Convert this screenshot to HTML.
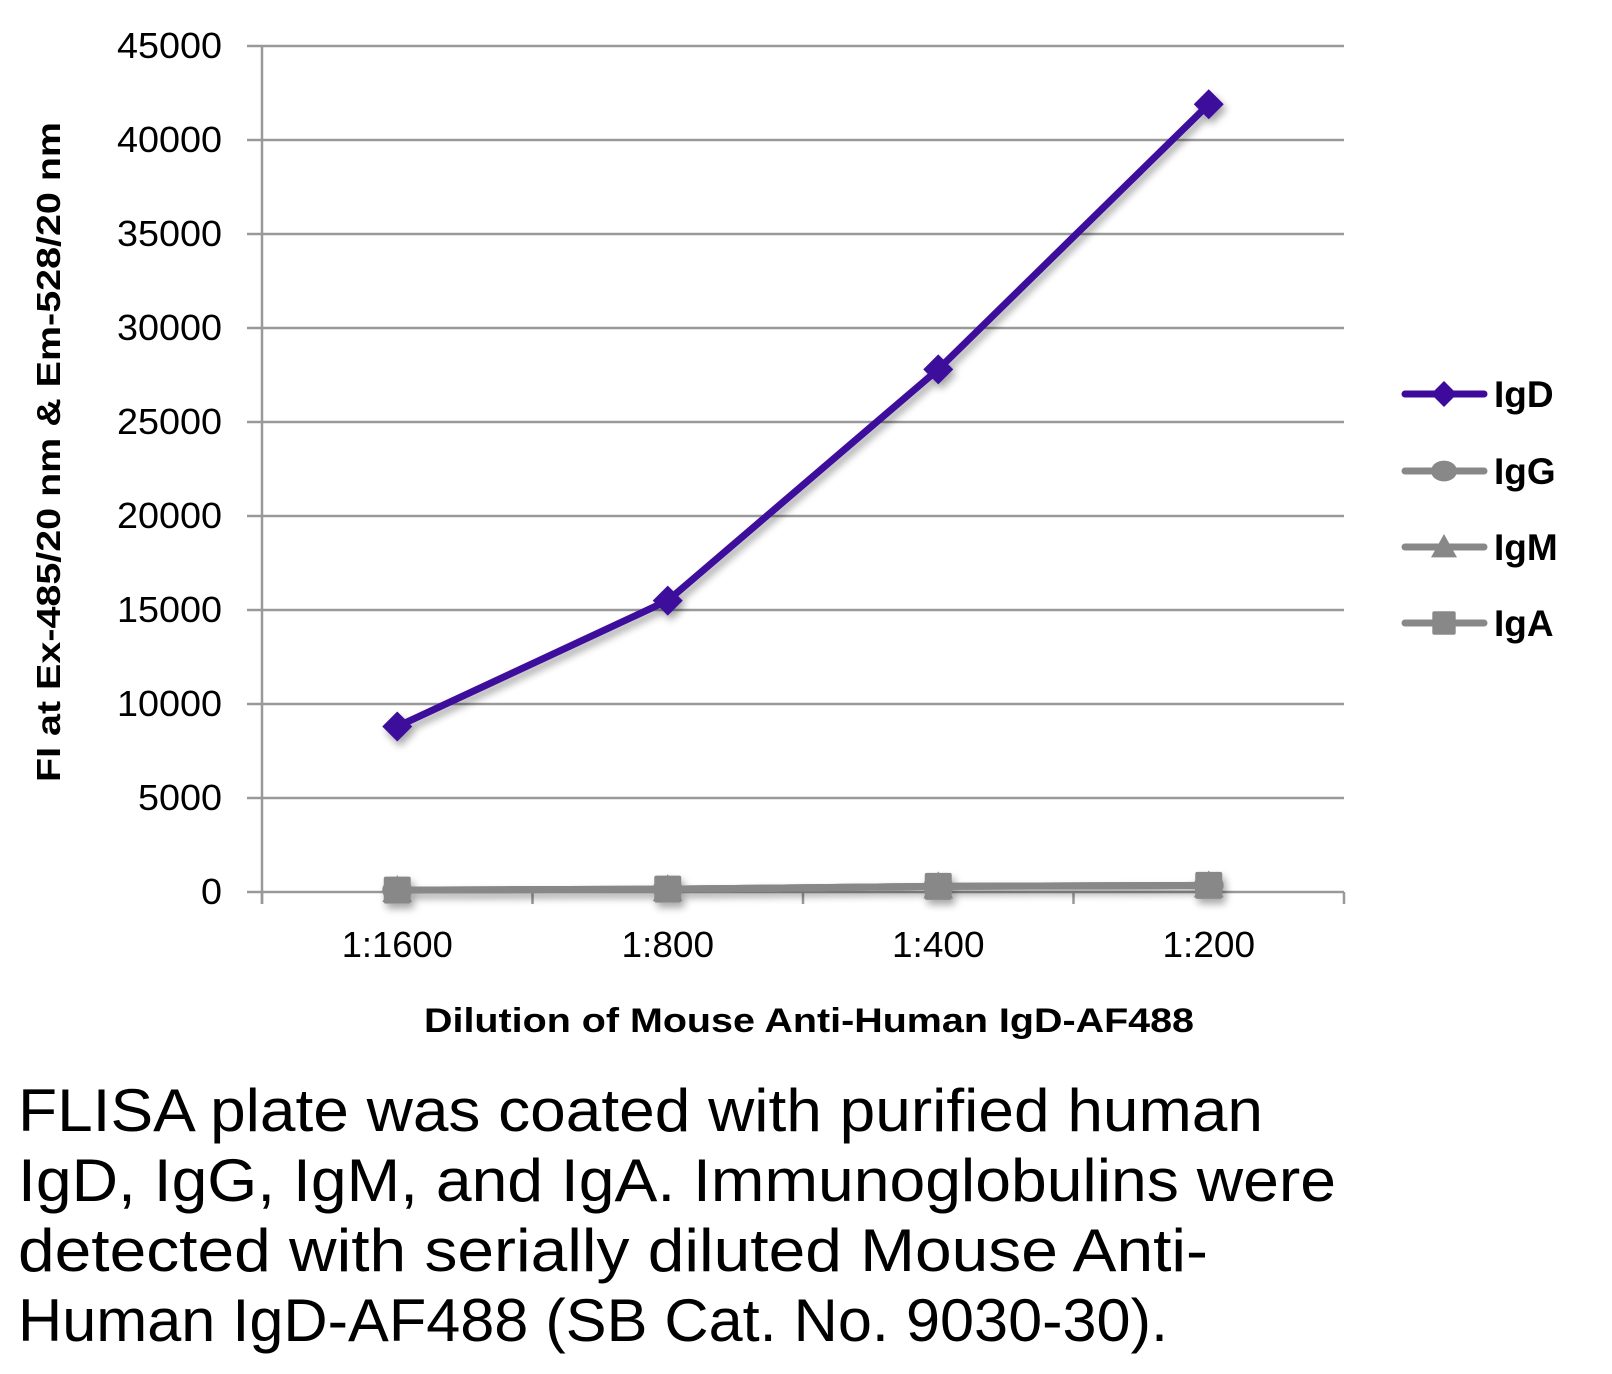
<!DOCTYPE html>
<html><head><meta charset="utf-8"><style>
html,body{margin:0;padding:0;background:#fff;}
svg{display:block;font-family:"Liberation Sans",sans-serif;}
</style></head><body>
<svg id="chart" width="1612" height="1374" viewBox="0 0 1612 1374">
<defs><filter id="sh" x="-20%" y="-20%" width="140%" height="140%"><feGaussianBlur in="SourceAlpha" stdDeviation="4"/><feOffset dx="3" dy="5"/><feComponentTransfer><feFuncA type="linear" slope="0.35"/></feComponentTransfer><feMerge><feMergeNode/><feMergeNode in="SourceGraphic"/></feMerge></filter></defs>
<g id="grid"></g>
<g id="axes"></g>
<g id="series" filter="url(#sh)"></g>
<text x="60" y="452" transform="rotate(-90 60 452)" text-anchor="middle" font-weight="bold" font-size="33" textLength="660" lengthAdjust="spacingAndGlyphs">FI at Ex-485/20 nm &amp; Em-528/20 nm</text>
<text x="809" y="1032" text-anchor="middle" font-weight="bold" font-size="34" textLength="770" lengthAdjust="spacingAndGlyphs">Dilution of Mouse Anti-Human IgD-AF488</text>
<g id="legend"></g>
<g font-size="60">
<text x="18" y="1131" textLength="1245" lengthAdjust="spacingAndGlyphs">FLISA plate was coated with purified human</text>
<text x="18" y="1201" textLength="1318" lengthAdjust="spacingAndGlyphs">IgD, IgG, IgM, and IgA.  Immunoglobulins were</text>
<text x="18" y="1271" textLength="1190" lengthAdjust="spacingAndGlyphs">detected with serially diluted Mouse Anti-</text>
<text x="18" y="1341" textLength="1150" lengthAdjust="spacingAndGlyphs">Human IgD-AF488 (SB Cat. No. 9030-30).</text>
</g>
</svg>
<script>
const categories = ["1:1600","1:800","1:400","1:200"];
const igD = [8800, 15500, 27800, 41900];
const igG = [100, 150, 300, 350];
const igM = [100, 150, 300, 350];
const igA = [100, 150, 300, 350];
const yTicks = [0,5000,10000,15000,20000,25000,30000,35000,40000,45000];
const seriesNames = ["IgD","IgG","IgM","IgA"];

const NS="http://www.w3.org/2000/svg";
const X0=262, X1=1344, Y0=892, Y1=46, YMAX=45000;
const bw=(X1-X0)/categories.length;
const xs=i=>X0+bw*(i+0.5);
const ys=v=>Y0-(v/YMAX)*(Y0-Y1);
function mk(t,a,p){const e=document.createElementNS(NS,t);for(const k in a)e.setAttribute(k,a[k]);p.appendChild(e);return e;}
const grid=document.getElementById('grid'), axes=document.getElementById('axes'), ser=document.getElementById('series'), leg=document.getElementById('legend');
yTicks.forEach(v=>{
  const l=mk('line',{x1:247,x2:X1,y1:ys(v),y2:ys(v),stroke:'#999','stroke-width':2.5},grid);
  
  
  const s=String(v);
  const t=mk('text',{x:222,y:ys(v)+12,'text-anchor':'end','font-size':36,textLength:21*s.length,lengthAdjust:'spacingAndGlyphs'},axes);
  t.textContent=s;
  
  
});
mk('line',{x1:X0,x2:X0,y1:Y1,y2:Y0+12,stroke:'#999','stroke-width':2.5},axes);
for(let i=0;i<=categories.length;i++){mk('line',{x1:X0+bw*i,x2:X0+bw*i,y1:Y0,y2:Y0+12,stroke:'#999','stroke-width':2.5},axes);}
categories.forEach((c,i)=>{
  const t=mk('text',{x:xs(i),y:957,'text-anchor':'middle','font-size':36,textLength:18.5*c.length,lengthAdjust:'spacingAndGlyphs'},axes);
  t.textContent=c;
  
  
});
const GRAY='#888', PUR='#3d0a9b';
function marker(type,x,y,col,s,p){
  let e;
  if(type==='diamond') e=mk('polygon',{points:`${x},${y-s} ${x+s},${y} ${x},${y+s} ${x-s},${y}`,fill:col},p);
  else if(type==='circle') e=mk('ellipse',{cx:x,cy:y,rx:s,ry:s*0.8,fill:col},p);
  else if(type==='triangle') e=mk('polygon',{points:`${x},${y-s} ${x+s},${y+s*0.8} ${x-s},${y+s*0.8}`,fill:col},p);
  else e=mk('rect',{x:x-s*0.9,y:y-s*0.9,width:s*1.8,height:s*1.8,rx:2,fill:col},p);
  return e;
}
const defs=[[igA,'square',GRAY],[igM,'triangle',GRAY],[igG,'circle',GRAY],[igD,'diamond',PUR]];
defs.forEach(([vals,m,col])=>{
  const pl=mk('polyline',{points:vals.map((v,i)=>xs(i)+','+ys(v)).join(' '),fill:'none',stroke:col,'stroke-width':7,'stroke-linejoin':'round'},ser);
  
  
  vals.forEach((v,i)=>{
    const mm=marker(m,xs(i),ys(v),col,15,ser);
    
    
  });
});
const legMarks=['diamond','circle','triangle','square'], legCols=[PUR,GRAY,GRAY,GRAY], legY=[394,471,547,623];
seriesNames.forEach((n,i)=>{
  const g=mk('g',{},leg);
  
  
  mk('line',{x1:1405,x2:1484,y1:legY[i],y2:legY[i],stroke:legCols[i],'stroke-width':7,'stroke-linecap':'round'},g);
  marker(legMarks[i],1444,legY[i],legCols[i],13,g);
  const t=mk('text',{x:1494,y:legY[i]+13,'font-size':37,'font-weight':'bold'},g);
  t.textContent=n;
});
</script>
</body></html>
